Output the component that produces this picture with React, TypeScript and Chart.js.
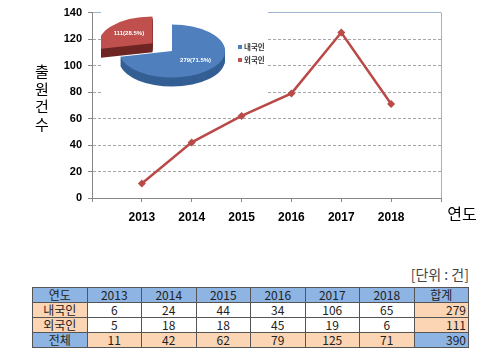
import React, { useEffect, useRef } from 'react';
import { Chart, registerables } from 'chart.js';

Chart.register(...registerables);

// ---- data ----
const years = ['2013', '2014', '2015', '2016', '2017', '2018'];
const totals = [11, 42, 62, 79, 125, 71];
const domestic = [6, 24, 44, 34, 106, 65];
const foreign = [5, 18, 18, 45, 19, 6];
const rowSums = [279, 111, 390];
const pieLabels = ['내국인', '외국인'];
const pieValues = [279, 111];
const yMin = 0;
const yMax = 140;
const yStep = 20;

// ---- styles ----
const FONT = '"Liberation Sans", Arial, sans-serif';
const KFONT = '"Noto Sans CJK KR", "Noto Sans", sans-serif';
const LINE = '#b94a48';
const AXIS = '#868686';
const FRAME = '#9db3cf';
const GRID = '#a6a6a6';
const PIE_TOP = ['#4f7fbd', '#c0504d'];
const PIE_SIDE = ['#345f94', '#6e2624'];
const BLUE = '#8db4e2';
const PEACH = '#fcd5b4';

export default function App() {
  const lineRef = useRef<HTMLCanvasElement>(null);
  const pieRef = useRef<HTMLCanvasElement>(null);

  useEffect(() => {
    const labels = ['', ...years, ''];
    const data = [null, ...totals, null];
    const last = labels.length - 1;

    const textPlugin = {
      id: 'axisTexts',
      afterDraw(chart: any) {
        const ctx = chart.ctx;
        ctx.save();
        ctx.fillStyle = '#000';
        ctx.textAlign = 'center';
        ctx.textBaseline = 'middle';
        ctx.font = `15px ${KFONT}`;
        Array.from('출원건수').forEach((ch, i) => ctx.fillText(ch, 42, 71.5 + i * 17.5));
        ctx.font = `16px ${KFONT}`;
        ctx.fillText('연도', 462, 214);
        ctx.restore();
      },
    };

    const line = new Chart(lineRef.current as HTMLCanvasElement, {
      type: 'line',
      data: {
        labels,
        datasets: [
          {
            data,
            borderColor: LINE,
            backgroundColor: LINE,
            borderWidth: 2.5,
            pointStyle: 'rectRot',
            pointRadius: 4,
            pointBorderWidth: 0,
            tension: 0,
          },
        ],
      },
      options: {
        responsive: false,
        animation: false,
        events: [],
        layout: { padding: { left: 0, right: 59, top: 8, bottom: 0 } },
        plugins: { legend: { display: false }, tooltip: { enabled: false } },
        scales: {
          x: {
            type: 'category',
            offset: false,
            grid: {
              color: (c: any) => (c.index === last ? FRAME : 'rgba(0,0,0,0)'),
              tickColor: AXIS,
              tickLength: 4,
              lineWidth: 1,
            },
            border: { color: AXIS, width: 1 },
            ticks: {
              autoSkip: false,
              maxRotation: 0,
              padding: 8,
              color: '#000',
              font: { family: FONT, size: 12, weight: 'bold' },
            },
            afterFit: (s: any) => {
              s.height = 42;
            },
          },
          y: {
            min: yMin,
            max: yMax,
            ticks: {
              stepSize: yStep,
              padding: 6,
              color: '#000',
              font: { family: FONT, size: 11, weight: 'bold' },
            },
            grid: {
              color: (c: any) =>
                c.tick && c.tick.value === yMin
                  ? 'rgba(0,0,0,0)'
                  : c.tick && c.tick.value === yMax
                  ? FRAME
                  : GRID,
              tickColor: AXIS,
              tickLength: 4,
              lineWidth: 1,
            },
            border: {
              color: AXIS,
              width: 1,
              dash: (c: any) => (c.tick && c.tick.value === yMax ? [] : [3, 2]),
            },
            afterFit: (s: any) => {
              s.width = 92;
            },
          },
        },
      },
      plugins: [textPlugin],
    } as any);

    const K = 0.5;
    const DEPTH = 9;
    const pie3d = {
      id: 'pie3d',
      beforeDatasetsDraw(chart: any) {
        const meta = chart.getDatasetMeta(0);
        const ctx = chart.ctx;
        const a0 = meta.data[0];
        const cx = a0.x;
        const cy = a0.y;
        for (let d = DEPTH; d >= 1; d--) {
          meta.data.forEach((a: any, i: number) => {
            ctx.save();
            ctx.translate(0, d);
            ctx.translate(cx, cy);
            ctx.scale(1, K);
            ctx.translate(-cx, -cy);
            const off = (a.options.offset || 0) / 4;
            const half = (a.startAngle + a.endAngle) / 2;
            const ox = a.x + Math.cos(half) * off;
            const oy = a.y + Math.sin(half) * off;
            ctx.fillStyle = PIE_SIDE[i];
            ctx.beginPath();
            ctx.moveTo(ox, oy);
            ctx.arc(ox, oy, a.outerRadius, a.startAngle, a.endAngle);
            ctx.closePath();
            ctx.fill();
            ctx.restore();
          });
        }
        ctx.save();
        ctx.translate(cx, cy);
        ctx.scale(1, K);
        ctx.translate(-cx, -cy);
      },
      afterDatasetsDraw(chart: any) {
        const ctx = chart.ctx;
        ctx.restore();
        const meta = chart.getDatasetMeta(0);
        const vals = chart.data.datasets[0].data as number[];
        const sum = vals.reduce((p, v) => p + v, 0);
        ctx.save();
        ctx.fillStyle = '#fff';
        ctx.font = `bold 6px ${FONT}`;
        ctx.textAlign = 'center';
        ctx.textBaseline = 'middle';
        meta.data.forEach((a: any, i: number) => {
          const off = (a.options.offset || 0) / 4;
          const half = (a.startAngle + a.endAngle) / 2;
          const r = off + a.outerRadius * 0.57;
          const px = a.x + Math.cos(half) * r;
          const py = a.y + Math.sin(half) * r * K;
          const pct = ((vals[i] / sum) * 100).toFixed(1);
          ctx.fillText(`${vals[i]}(${pct}%)`, px, py);
        });
        // legend
        ctx.font = `bold 7.5px ${KFONT}`;
        ctx.textAlign = 'left';
        (chart.data.labels as string[]).forEach((lab, i) => {
          const y = 38 + i * 13;
          ctx.fillStyle = PIE_TOP[i];
          ctx.fillRect(137, y - 2, 4, 4);
          ctx.fillStyle = '#333';
          ctx.fillText(lab, 143, y);
        });
        ctx.restore();
      },
    };

    const pie = new Chart(pieRef.current as HTMLCanvasElement, {
      type: 'pie',
      data: {
        labels: pieLabels,
        datasets: [
          {
            data: pieValues,
            backgroundColor: PIE_TOP,
            borderWidth: 0,
            offset: [0, 100],
            radius: 53,
            cutout: '0%',
            clip: false,
          },
        ],
      },
      options: {
        responsive: false,
        animation: false,
        events: [],
        cutout: '0%',
        radius: 53,
        layout: { padding: { left: 0, right: 25, top: 0, bottom: 8 } },
        plugins: { legend: { display: false }, tooltip: { enabled: false } },
      },
      plugins: [pie3d],
    } as any);

    return () => {
      line.destroy();
      pie.destroy();
    };
  }, []);

  const cell: React.CSSProperties = {
    border: '1px solid #555',
    padding: 0,
    height: 14,
    lineHeight: '14px',
    textAlign: 'center',
    overflow: 'hidden',
  };
  const right: React.CSSProperties = { ...cell, textAlign: 'right', paddingRight: 2 };

  const rows = [
    { label: '내국인', values: domestic, sum: rowSums[0], labelBg: PEACH, valBg: '#fff', sumBg: PEACH },
    { label: '외국인', values: foreign, sum: rowSums[1], labelBg: PEACH, valBg: '#fff', sumBg: PEACH },
    { label: '전체', values: totals, sum: rowSums[2], labelBg: BLUE, valBg: PEACH, sumBg: BLUE },
  ];

  return (
    <div style={{ position: 'absolute', left: 0, top: 0, width: 500, height: 364, background: '#fff', overflow: 'hidden' }}>
      <canvas ref={lineRef} width={500} height={240} style={{ position: 'absolute', left: 0, top: 0 }} />
      <canvas
        ref={pieRef}
        width={167}
        height={92}
        style={{ position: 'absolute', left: 101, top: 9, background: '#fff' }}
      />
      <div
        style={{
          position: 'absolute',
          right: 31,
          top: 265,
          fontFamily: KFONT,
          fontSize: 14,
          color: '#444',
          lineHeight: '18px',
        }}
      >
        [단위 : 건]
      </div>
      <table
        style={{
          position: 'absolute',
          left: 32,
          top: 287,
          width: 437,
          borderCollapse: 'collapse',
          tableLayout: 'fixed',
          fontFamily: KFONT,
          fontSize: 12,
          color: '#222',
        }}
      >
        <tbody>
          <tr style={{ background: BLUE }}>
            <td style={cell}>연도</td>
            {years.map((y) => (
              <td key={y} style={cell}>
                {y}
              </td>
            ))}
            <td style={cell}>합계</td>
          </tr>
          {rows.map((r) => (
            <tr key={r.label}>
              <td style={{ ...cell, background: r.labelBg }}>{r.label}</td>
              {r.values.map((v, i) => (
                <td key={i} style={{ ...cell, background: r.valBg }}>
                  {v}
                </td>
              ))}
              <td style={{ ...right, background: r.sumBg }}>{r.sum}</td>
            </tr>
          ))}
        </tbody>
      </table>
    </div>
  );
}
